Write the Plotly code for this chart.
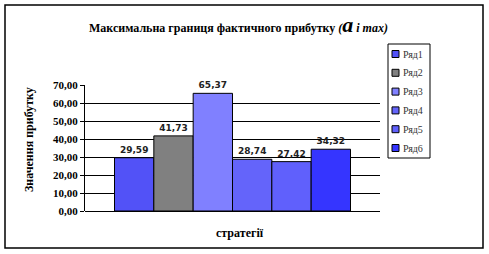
import plotly.graph_objects as go

# ---- data ----
categories = ["1"]
series_names = ["Ряд1", "Ряд2", "Ряд3", "Ряд4", "Ряд5", "Ряд6"]
series_values = [29.59, 41.73, 65.37, 28.74, 27.42, 34.32]
series_colors = ["#5252F7", "#808080", "#8080FF", "#6464FA", "#6060FC", "#3535FF"]
y_tick_vals = [0, 10, 20, 30, 40, 50, 60, 70]

W, H = 489, 254
L, R, T, B = 85, 109, 85, 43
PW, PH = W - L - R, H - T - B


def px_x(px):
    return (px - L) / PW


def px_y(py):
    return (H - B - py) / PH


fig = go.Figure()
for name, val, col in zip(series_names, series_values, series_colors):
    fig.add_trace(go.Bar(
        x=categories, y=[val], name=name,
        marker=dict(color=col, line=dict(color="black", width=1)),
        text=[val], texttemplate="%{y:.2f}", textposition="outside",
        textfont=dict(family="DejaVu Sans", size=9, color="#222222", weight="bold"),
        cliponaxis=False, showlegend=False,
    ))

shapes = []
annotations = []

# outer frame
shapes.append(dict(type="rect", xref="paper", yref="paper",
                   x0=px_x(5), x1=px_x(483), y0=px_y(248), y1=px_y(5),
                   line=dict(color="black", width=1.5), fillcolor="rgba(0,0,0,0)", layer="below"))

# legend box
shapes.append(dict(type="rect", xref="paper", yref="paper",
                   x0=px_x(388), x1=px_x(430), y0=px_y(158), y1=px_y(44),
                   line=dict(color="black", width=1), fillcolor="white"))
for i, (name, col) in enumerate(zip(series_names, series_colors)):
    cy = 54 + i * 18.8
    shapes.append(dict(type="rect", xref="paper", yref="paper",
                       x0=px_x(392), x1=px_x(399), y0=px_y(cy + 3.5), y1=px_y(cy - 3.5),
                       line=dict(color="black", width=1), fillcolor=col))
    annotations.append(dict(xref="paper", yref="paper", x=px_x(401), y=px_y(cy),
                            xanchor="left", yanchor="middle", showarrow=False, text=name,
                            font=dict(family="Liberation Serif", size=10, color="#333333")))

# title
annotations.append(dict(
    xref="paper", yref="paper", x=px_x(238), y=px_y(25), xanchor="center", yanchor="middle",
    showarrow=False,
    text="<b>Максимальна границя фактичного прибутку <i>(<span style='font-size:22px'>a</span> "
         "i max)</i></b>",
    font=dict(family="Liberation Serif", size=12, color="black")))

# y-axis title
annotations.append(dict(
    xref="paper", yref="paper", x=px_x(29), y=px_y(140), xanchor="center", yanchor="middle",
    showarrow=False, textangle=-90, text="<b>Значення прибутку</b>",
    font=dict(family="Liberation Serif", size=12, color="black")))

# x-axis title
annotations.append(dict(
    xref="paper", yref="paper", x=px_x(240), y=px_y(233), xanchor="center", yanchor="middle",
    showarrow=False, text="<b>стратегії</b>",
    font=dict(family="Liberation Serif", size=12, color="black")))

fig.update_layout(
    width=W, height=H, margin=dict(l=L, r=R, t=T, b=B),
    paper_bgcolor="white", plot_bgcolor="white",
    separators=", ",
    barmode="group", bargap=0.2, bargroupgap=0,
    shapes=shapes, annotations=annotations,
    xaxis=dict(showticklabels=False, ticks="", showgrid=False, zeroline=False,
               showline=False),
    yaxis=dict(range=[0, 70], tickvals=y_tick_vals, tickformat=".2f",
               showgrid=True, gridcolor="black", gridwidth=1,
               showline=True, linecolor="black", linewidth=1,
               ticks="outside", ticklen=4, tickcolor="black",
               zeroline=True, zerolinecolor="black", zerolinewidth=1,
               tickfont=dict(family="Liberation Serif", size=11, color="black", weight="bold")),
    showlegend=False,
)

fig.write_html("out.html")
